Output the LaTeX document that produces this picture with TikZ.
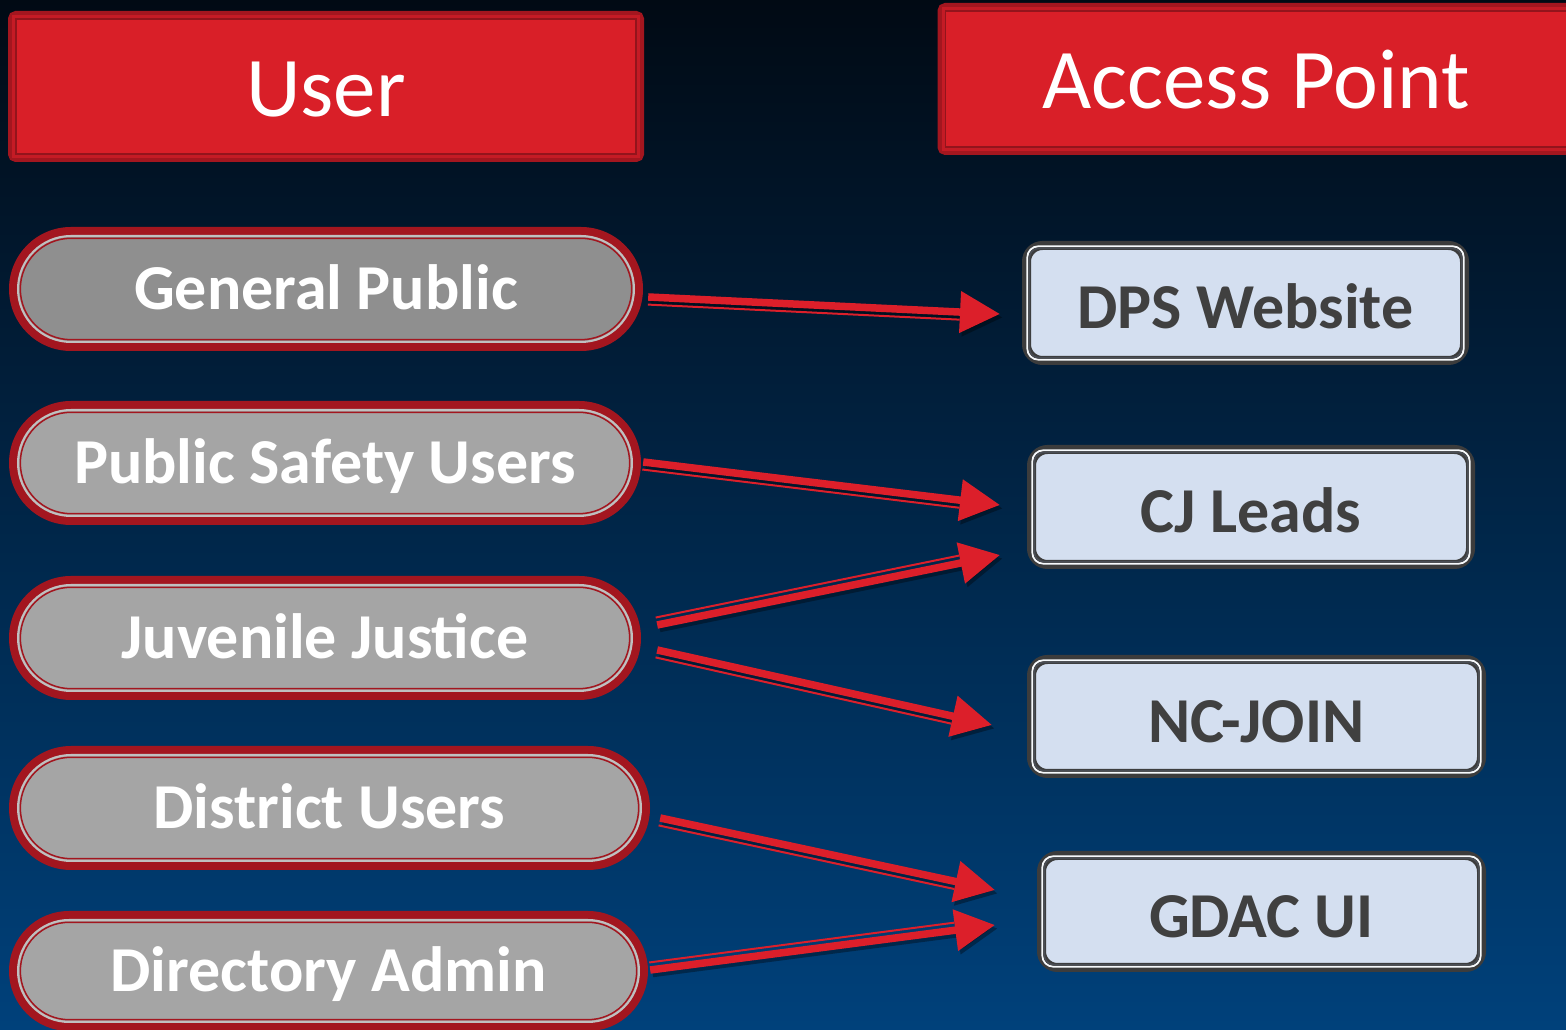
\documentclass[tikz,border=0pt]{standalone}
\usepackage{fontspec}
\setmainfont{Carlito}
\usetikzlibrary{arrows.meta,calc}
\definecolor{bgtop}{HTML}{010A14}
\definecolor{bgmid}{HTML}{00294F}
\definecolor{bgbot}{HTML}{00417B}
\definecolor{hred}{HTML}{D91F28}
\definecolor{hdark}{HTML}{A3161F}
\definecolor{hmid}{HTML}{C41B25}
\definecolor{capline}{HTML}{C0C0C0}
\definecolor{capgrayA}{HTML}{8F8F8F}
\definecolor{capgrayB}{HTML}{A5A5A5}
\definecolor{arred}{HTML}{DC1F2A}
\definecolor{boxfill}{HTML}{D4DFF0}
\definecolor{boxdark}{HTML}{3C3C3C}
\definecolor{boxtext}{HTML}{404040}
\definecolor{boxinner}{HTML}{4A4E55}
% stadium path: cx, cy, w, h, inset
\newcommand\cappath[5]{({#1-#3/2+#4/2},{#2+#4/2-#5}) -- ({#1+#3/2-#4/2},{#2+#4/2-#5}) arc[start angle=90,end angle=-90,x radius={#4/2-#5},y radius={#4/2-#5}] -- ({#1-#3/2+#4/2},{#2-#4/2+#5}) arc[start angle=270,end angle=90,x radius={#4/2-#5},y radius={#4/2-#5}] -- cycle}
\newcommand\capsule[7]{% name, cx, cy, w, h, fill, text
  \fill[hdark] \cappath{#2}{#3}{#4}{#5}{0};
  \filldraw[fill=#6, draw=capline, line width=2pt] \cappath{#2}{#3}{#4}{#5}{9};
  \draw[hdark, line width=1.5pt] \cappath{#2}{#3}{#4}{#5}{11.3};
  \node[captext, minimum width=#4, minimum height=#5] (#1) at (#2,#3) {#7};
}
\newcommand\apbox[5]{% name, cx, cy, w, h
  \node[apbox, minimum width={#4-9}, minimum height={#5-9}] (#1) at (#2,#3) {};
  \draw[white!80!boxfill, line width=1.8pt, rounded corners=11pt] ($(#1.north west)+(5.3,-5.3)$) rectangle ($(#1.south east)+(-5.3,5.3)$);
  \draw[boxinner, line width=1.6pt, rounded corners=9pt] ($(#1.north west)+(7.4,-7.4)$) rectangle ($(#1.south east)+(-7.4,7.4)$);
}
\newcommand\headerdeco[1]{%
  \draw[hmid, line width=3pt] ($(#1.north west)+(5.5,-5.5)$) rectangle ($(#1.south east)+(-5.5,5.5)$);
  \draw[hdark!90!black, line width=1.8pt] ($(#1.north west)+(8,-8)$) rectangle ($(#1.south east)+(-8,8)$);
}
\newcommand\redarrow[3]{% start, end, side angle
  \coordinate (rs) at (#1);
  \coordinate (re) at (#2);
  \coordinate (rb) at ($(re)!40pt!(rs)$);
  \begin{scope}[transform canvas={shift={(2.5pt,-3.5pt)}}]
    \draw[black, opacity=.35, line width=7.5pt, -{Triangle[length=40pt,width=40pt]}] (rs) -- (re);
  \end{scope}
  \draw[arrowmain] (rs) -- (re);
  \draw[arrowthin] ($(rs)!7.6pt!#3:(re)$) -- ($(rb)!7.6pt!#3:(re)$);
}
\tikzset{
  header/.style={fill=hred, draw=hdark, line width=8pt, rounded corners=4pt,
    minimum width=#1, minimum height=143pt, inner sep=0pt, text=white,
    font=\fontsize{85}{85}\selectfont, text height=60pt, text depth=0pt},
  captext/.style={inner sep=0pt, text=white, font=\bfseries\fontsize{64}{64}\selectfont,
    text height=41pt, text depth=0pt},
  apbox/.style={fill=boxfill, draw=boxdark, line width=9pt, rounded corners=16pt, inner sep=0pt},
  aptext/.style={text=boxtext, font=\bfseries\fontsize{64}{64}\selectfont, text height=52pt, text depth=0pt, inner sep=0pt},
  arrowmain/.style={arred, line width=7.5pt, -{Triangle[length=40pt,width=40pt]}},
  arrowthin/.style={arred, line width=2pt}
}
\begin{document}
\begin{tikzpicture}[x=1pt,y=1pt]
\useasboundingbox (0,0) rectangle (1566,1030);
\shade[top color=bgtop, middle color=bgmid, bottom color=bgbot] (0,0) rectangle (1566,1030);

% headers
\node[header=628pt] (user) at (326,943.5) {User};
\headerdeco{user}
\node[header=629pt, minimum height=144pt] (ap) at (1256,951) {Access Point};
\headerdeco{ap}

% user capsules
\capsule{gp}{326}{741}{634}{124}{capgrayA}{General Public}
\capsule{ps}{325}{567}{632}{124}{capgrayB}{Public Safety Users}
\capsule{jj}{325}{392}{632}{124}{capgrayB}{Juvenile Justice}
\capsule{du}{329.5}{222}{641}{124}{capgrayB}{District Users}
\capsule{da}{328.5}{59}{639}{120}{capgrayB}{Directory Admin}

% access point boxes
\apbox{dps}{1245.5}{727}{447}{124}
\node[aptext] (dpst) at (dps) {DPS Website};
\apbox{cj}{1251}{523}{448}{124}
\node[aptext] (cjt) at (cj) {CJ Leads};
\apbox{nc}{1256.5}{313.5}{459}{123}
\node[aptext] (nct) at (nc) {NC-JOIN};
\apbox{gd}{1261.5}{118.5}{449}{121}
\node[aptext] (gdt) at (gd) {GDAC UI};

% arrows
\redarrow{$(gp.east)+(5,-8)$}{$(dps.west)+(-22,-11)$}{-90}
\redarrow{$(ps.east)+(2,1)$}{$(cj.west)+(-27,2)$}{-90}
\redarrow{$(jj.east)+(16,13)$}{$(cj.west)+(-27,-48)$}{90}
\redarrow{$(jj.east)+(16,-12)$}{$(nc.west)+(-35,-8.5)$}{-90}
\redarrow{$(du.east)+(10,-10)$}{$(gd.west)+(-42,21.5)$}{-90}
\redarrow{$(da.east)+(2,1)$}{$(gd.west)+(-42,-13.5)$}{90}
\end{tikzpicture}
\end{document}
